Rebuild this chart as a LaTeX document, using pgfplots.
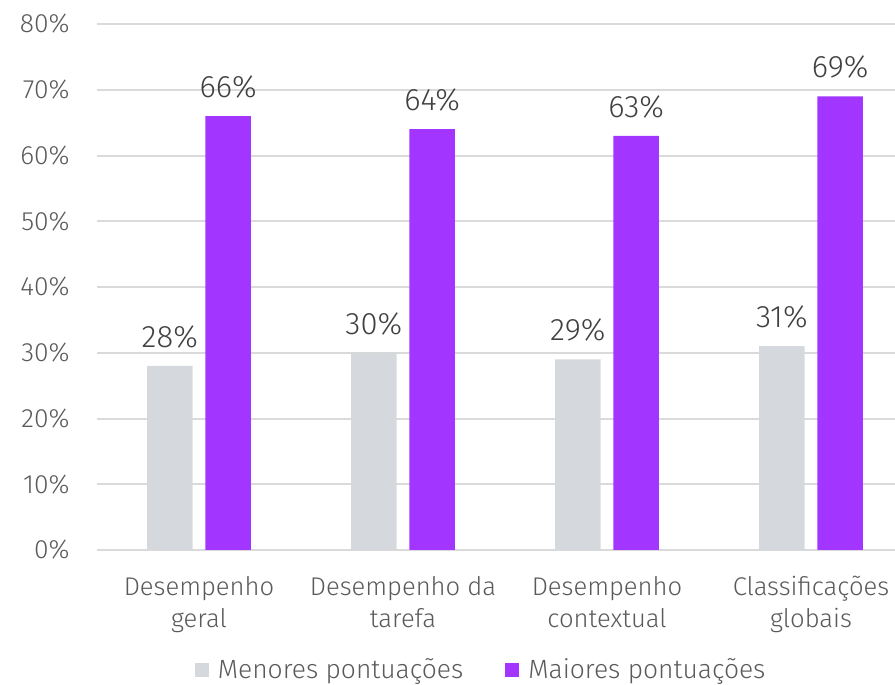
\documentclass[border=0pt]{standalone}
\usepackage{pgfplots}
\pgfplotsset{compat=1.18}
\usepackage{fontspec}
\setmainfont{Fira Sans Light}
\definecolor{greybar}{HTML}{D5D8DC}
\definecolor{purplebar}{HTML}{A235FF}
\definecolor{gridc}{HTML}{DADADA}
\definecolor{ticktext}{HTML}{5A5A5A}
\definecolor{valtext}{HTML}{404040}
\begin{document}
\begin{tikzpicture}
\path[use as bounding box, clip] (0,0) rectangle (447.5pt,342.5pt);
\begin{axis}[
  at={(48.5pt,67.5pt)}, anchor=south west,
  scale only axis, width=408pt, height=263pt,
  xmin=-0.5, xmax=3.5, ymin=0, ymax=80,
  axis line style={draw=none},
  ytick={0,10,...,80},
  yticklabel={\pgfmathprintnumber{\tick}\%},
  ymajorgrids, major grid style={gridc, line width=1pt},
  xtick={0,1,2,3},
  xticklabels={{Desempenho\\geral},{Desempenho da\\tarefa},{Desempenho\\contextual},{Classificações\\globais}},
  major tick length=0pt,
  /pgf/number format/assume math mode=true,
  yticklabel style={anchor=east, inner sep=0pt, xshift=-13.5pt, text=ticktext, font={\fontsize{13.2}{15}\selectfont}},
  xticklabel style={anchor=north, inner sep=0pt, yshift=-13pt, align=center, text=ticktext, font={\fontsize{12.8}{16}\selectfont}},
  ybar, bar width=22.75pt,
  nodes near coords={\pgfmathprintnumber{\pgfplotspointmeta}\%},
  every node near coord/.append style={anchor=base, yshift=9.3pt, inner sep=0pt, text=valtext, font={\fontsize{15.5}{16}\selectfont}},
  legend style={draw=none, fill=none, at={(0.472,-0.228)}, anchor=center, legend columns=2,
    font={\fontsize{13.2}{15}\selectfont}, text=ticktext, inner sep=0pt,
    /tikz/every odd column/.append style={column sep=2.5pt},
    /tikz/every even column/.append style={column sep=19pt}},
  legend cell align=left,
]
\addplot[fill=greybar, draw=none, bar shift=-14.6pt,
  legend image code/.code={\fill[greybar] (0pt,-3.5pt) rectangle (7pt,3.5pt);}]
  coordinates {(0,28) (1,30) (2,29) (3,31)};
\addplot[fill=purplebar, draw=none, bar shift=14.6pt,
  legend image code/.code={\fill[purplebar] (0pt,-3.5pt) rectangle (7pt,3.5pt);}]
  coordinates {(0,66) (1,64) (2,63) (3,69)};
\legend{Menores pontuações, Maiores pontuações}
\end{axis}
\end{tikzpicture}
\end{document}
